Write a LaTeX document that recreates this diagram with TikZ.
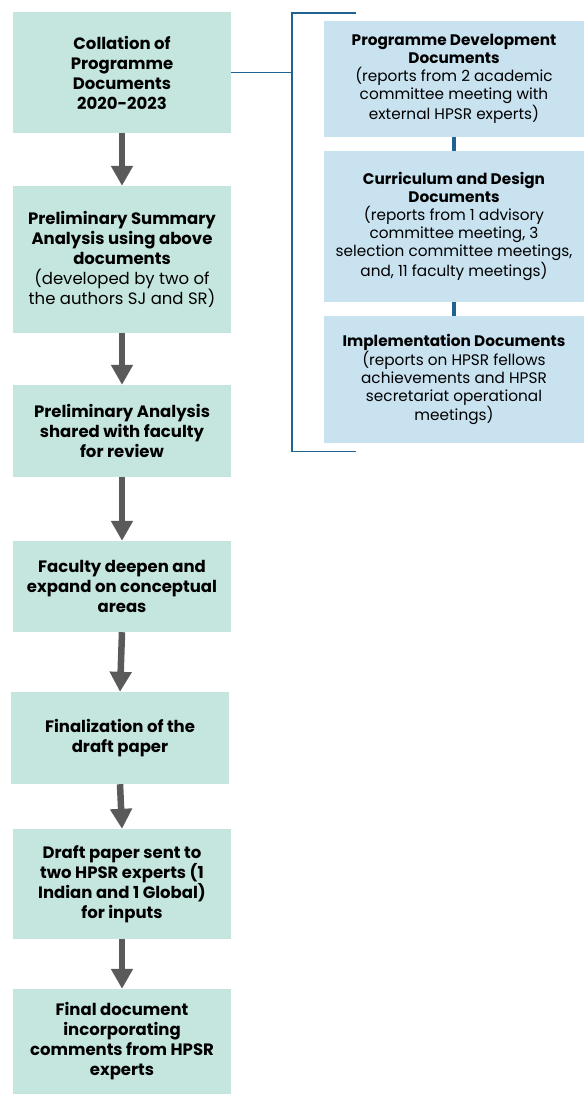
\documentclass[tikz,border=0pt]{standalone}
\usepackage{fontspec}
\setmainfont{Poppins}
\usetikzlibrary{arrows.meta}
\definecolor{mint}{HTML}{C5E6DF}
\definecolor{sky}{HTML}{C8E2F0}
\definecolor{arrowgray}{HTML}{5A5A5A}
\definecolor{bracketblue}{HTML}{1F6391}
\begin{document}
\begin{tikzpicture}[x=1pt,y=-1pt,
 leftbox/.style={fill=mint, draw=none, minimum width=218pt, inner sep=0pt, align=center, font=\fontsize{16.5}{20}\selectfont\bfseries},
 rightbox/.style={fill=sky, draw=none, minimum width=260pt, inner sep=0pt, align=center, font=\fontsize{15.3}{18}\selectfont},
 flowarrow/.style={draw=arrowgray, line width=6.5pt, -{Triangle[width=21pt,length=20pt]}},
 bracket/.style={draw=bracketblue, line width=1.5pt},
 linker/.style={draw=bracketblue, line width=3.5pt}
]
\useasboundingbox (0,0) rectangle (584,1094);

\node[leftbox, minimum height=121pt] (b1) at (122,72.5) {Collation of\\Programme\\Documents\\2020-2023};
\node[leftbox, minimum height=147pt] (b2) at (122,259.5) {Preliminary Summary\\Analysis using above\\documents\\\mdseries(developed by two of\\\mdseries the authors SJ and SR)};
\node[leftbox, minimum height=92pt] (b3) at (122,431) {Preliminary Analysis\\shared with faculty\\for review};
\node[leftbox, minimum height=91pt] (b4) at (122,586.5) {Faculty deepen and\\expand on conceptual\\areas};
\node[leftbox, minimum height=92pt] (b5) at (120,738) {Finalization of the\\draft paper};
\node[leftbox, minimum height=110pt] (b6) at (122,884) {Draft paper sent to\\two HPSR experts (1\\Indian and 1 Global)\\for inputs};
\node[leftbox, minimum height=105pt] (b7) at (122,1041.5) {Final document\\incorporating\\comments from HPSR\\experts};

\node[rightbox, minimum height=116pt] (ra) at (454,79) {\bfseries Programme Development\\\bfseries Documents\\(reports from 2 academic\\committee meeting with\\external HPSR experts)};
\node[rightbox, minimum height=151pt] (rb) at (454,226.5) {\bfseries Curriculum and Design\\\bfseries Documents\\(reports from 1 advisory\\committee meeting, 3\\selection committee meetings,\\and, 11 faculty meetings)};
\node[rightbox, minimum height=127pt] (rc) at (454,379.5) {\bfseries Implementation Documents\\(reports on HPSR fellows\\achievements and HPSR\\secretariat operational\\meetings)};

\draw[flowarrow] (b1.south) -- (b2.north);
\draw[flowarrow] (b2.south) -- (b3.north);
\draw[flowarrow] (b3.south) -- (b4.north);
\draw[flowarrow] (b4.south) -- (b5.north);
\draw[flowarrow] (b5.south) -- (b6.north);
\draw[flowarrow] (b6.south) -- (b7.north);

\coordinate (brTop) at (292,13);
\coordinate (brTopEnd) at (356,13);
\coordinate (brBot) at (292,451.5);
\coordinate (brBotEnd) at (356,451.5);
\draw[bracket] (brTopEnd) -- (brTop) -- (brBot) -- (brBotEnd);
\draw[bracket] (b1.east) -- (b1.east -| brTop);

\draw[linker] (ra.south) -- (rb.north);
\draw[linker] (rb.south) -- (rc.north);
\end{tikzpicture}
\end{document}
